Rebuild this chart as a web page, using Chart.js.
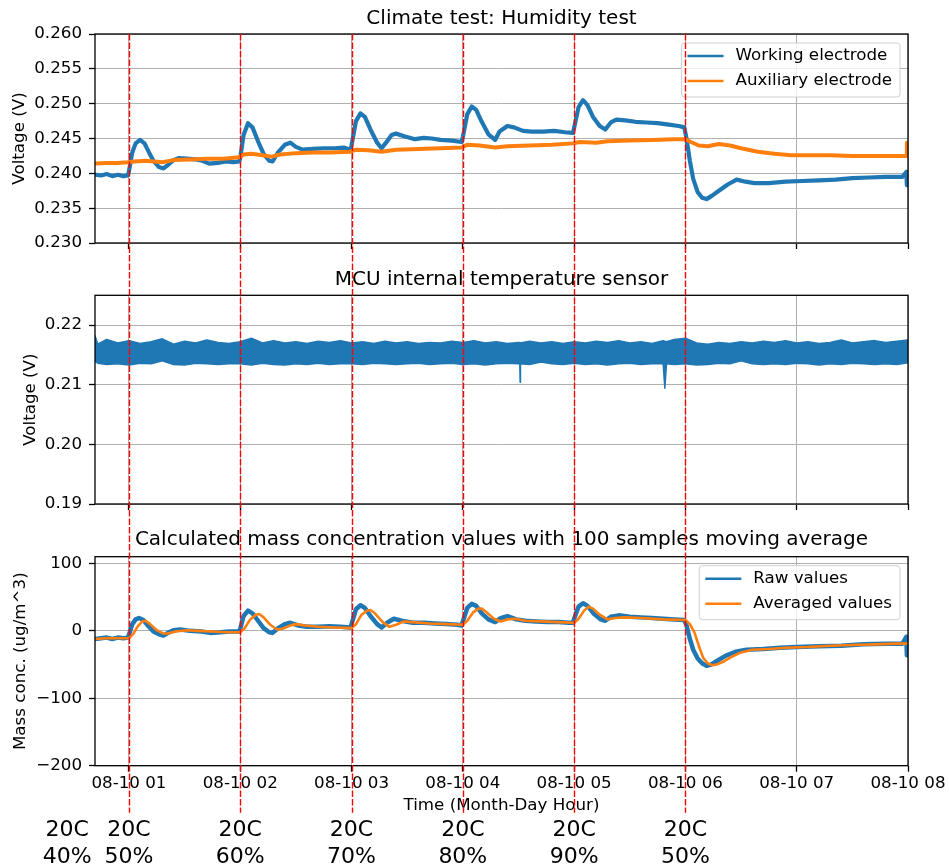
<!DOCTYPE html>
<html>
<head>
<meta charset="utf-8">
<title>Climate test: Humidity test</title>
<script src="https://cdn.jsdelivr.net/npm/chart.js@4.4.0/dist/chart.umd.min.js"></script>
<style>
  html, body { margin: 0; padding: 0; background: #fff; }
  #stage { position: relative; width: 949px; height: 867px; }
  #stage canvas { position: absolute; left: 0; top: 0; }
</style>
</head>
<body>
<div id="stage">
  <canvas id="chart-voltage" width="949" height="867"></canvas>
  <canvas id="chart-mcu" width="949" height="867"></canvas>
  <canvas id="chart-mass" width="949" height="867"></canvas>
</div>
<script>
/* ============================================================
   Humidity step test — electrode voltages, MCU temp, mass conc.
   x values are hours of 08-10
   ============================================================ */

// ── time axis ──
const X_MIN = 0.695;
const X_MAX = 8;
const hourTicks = [1, 2, 3, 4, 5, 6, 7, 8];
const stepHours = [1, 2, 3, 4, 5, 6];

// climate chamber set points
const condHours = [0.445, 1, 2, 3, 4, 5, 6];
const condTemp = ['20C', '20C', '20C', '20C', '20C', '20C', '20C'];
const condRh = ['40%', '50%', '60%', '70%', '80%', '90%', '50%'];

// ── y ticks ──
const voltTicks = [0.230, 0.235, 0.240, 0.245, 0.250, 0.255, 0.260];
const mcuTicks = [0.19, 0.20, 0.21, 0.22];
const massTicks = [-200, -100, 0, 100];

// ── working electrode (V) ──
const weTime = [0.695, 0.75, 0.80, 0.85, 0.90, 0.95, 0.99, 1.00, 1.03, 1.06, 1.10, 1.14, 1.18, 1.22, 1.27, 1.31,
  1.35, 1.40, 1.45, 1.52, 1.60, 1.66, 1.72, 1.80, 1.87, 1.94, 1.99, 2.00, 2.03, 2.07, 2.11, 2.16, 2.21, 2.26,
  2.29, 2.34, 2.40, 2.45, 2.50, 2.56, 2.65, 2.75, 2.85, 2.93, 2.99, 3.00, 3.04, 3.08, 3.12, 3.17, 3.23, 3.27,
  3.31, 3.36, 3.40, 3.48, 3.57, 3.65, 3.72, 3.80, 3.90, 3.99, 4.00, 4.04, 4.08, 4.12, 4.17, 4.23, 4.29, 4.33,
  4.40, 4.46, 4.54, 4.62, 4.72, 4.82, 4.92, 4.99, 5.00, 5.04, 5.08, 5.12, 5.17, 5.23, 5.28, 5.33, 5.38, 5.46,
  5.55, 5.65, 5.75, 5.85, 5.94, 5.99, 6.01, 6.04, 6.07, 6.11, 6.15, 6.19, 6.24, 6.31, 6.38, 6.46, 6.54, 6.62,
  6.75, 6.90, 7.05, 7.20, 7.35, 7.50, 7.65, 7.80, 7.95, 7.985, 7.99, 8.00];
const weVolt = [0.2398, 0.2397, 0.2399, 0.2396, 0.2398, 0.2396, 0.2397, 0.2403, 0.2430, 0.2443, 0.2448, 0.2443,
  0.2430, 0.2418, 0.2409, 0.2407, 0.2412, 0.2419, 0.2422, 0.2421, 0.2420, 0.2418, 0.2414, 0.2415, 0.2417, 0.2416,
  0.2417, 0.2422, 0.2455, 0.2472, 0.2466, 0.2446, 0.2428, 0.2418, 0.2417, 0.2430, 0.2441, 0.2444, 0.2438, 0.2434,
  0.2435, 0.2436, 0.2436, 0.2437, 0.2434, 0.2440, 0.2475, 0.2486, 0.2481, 0.2463, 0.2444, 0.2436, 0.2444, 0.2455,
  0.2457, 0.2453, 0.2449, 0.2451, 0.2450, 0.2448, 0.2447, 0.2445, 0.2452, 0.2485, 0.2496, 0.2491, 0.2474, 0.2456,
  0.2448, 0.2460, 0.2468, 0.2466, 0.2461, 0.2460, 0.2460, 0.2461, 0.2459, 0.2458, 0.2465, 0.2495, 0.2505, 0.2498,
  0.2481, 0.2468, 0.2463, 0.2473, 0.2477, 0.2476, 0.2474, 0.2473, 0.2472, 0.2470, 0.2468, 0.2466, 0.2450, 0.2418,
  0.2392, 0.2373, 0.2365, 0.2363, 0.2368, 0.2376, 0.2384, 0.2391, 0.2388, 0.2386, 0.2386, 0.2388, 0.2389, 0.2390,
  0.2391, 0.2393, 0.2394, 0.2395, 0.2395, 0.2402, 0.2383, 0.2396];

// ── auxiliary electrode (V) ──
const aeTime = [0.695, 0.80, 0.90, 0.99, 1.05, 1.15, 1.30, 1.40, 1.55, 1.70, 1.85, 1.99, 2.03, 2.10, 2.20, 2.28,
  2.36, 2.50, 2.65, 2.80, 2.99, 3.04, 3.15, 3.27, 3.40, 3.60, 3.80, 3.99, 4.04, 4.15, 4.29, 4.40, 4.60, 4.80,
  4.99, 5.05, 5.20, 5.30, 5.50, 5.70, 5.90, 6.00, 6.05, 6.12, 6.20, 6.30, 6.40, 6.50, 6.65, 6.80, 6.95, 7.10,
  7.30, 7.50, 7.70, 7.90, 7.985, 7.99, 8.00];
const aeVolt = [0.2414, 0.2415, 0.2415, 0.2416, 0.2417, 0.2418, 0.2416, 0.2419, 0.2420, 0.2421, 0.2421, 0.2423,
  0.2427, 0.2428, 0.2426, 0.2424, 0.2427, 0.2429, 0.2430, 0.2430, 0.2431, 0.2434, 0.2433, 0.2431, 0.2434, 0.2435,
  0.2436, 0.2437, 0.2441, 0.2440, 0.2437, 0.2439, 0.2440, 0.2441, 0.2443, 0.2445, 0.2444, 0.2446, 0.2447, 0.2448,
  0.2449, 0.2449, 0.2445, 0.2440, 0.2439, 0.2442, 0.2440, 0.2436, 0.2431, 0.2428, 0.2426, 0.2426, 0.2426, 0.2425,
  0.2425, 0.2425, 0.2425, 0.2444, 0.2425];

// ── MCU temperature sensor: upper / lower edge of the noise band (V) ──
const mcuTime = [0.695, 0.72, 0.80, 0.90, 1.00, 1.10, 1.20, 1.30, 1.40, 1.50, 1.60, 1.70, 1.80, 1.90, 2.00, 2.10,
  2.20, 2.30, 2.40, 2.50, 2.60, 2.70, 2.80, 2.90, 3.00, 3.10, 3.20, 3.30, 3.40, 3.50, 3.60, 3.70, 3.80, 3.90,
  4.00, 4.10, 4.20, 4.30, 4.40, 4.50, 4.512, 4.515, 4.518, 4.60, 4.70, 4.80, 4.90, 5.00, 5.10, 5.20, 5.30, 5.40,
  5.50, 5.60, 5.70, 5.80, 5.815, 5.83, 5.90, 6.00, 6.10, 6.20, 6.30, 6.40, 6.50, 6.60, 6.70, 6.80, 6.90, 7.00,
  7.10, 7.20, 7.30, 7.40, 7.50, 7.60, 7.70, 7.80, 7.90, 8.00];
const mcuHigh = [0.2182, 0.2168, 0.2176, 0.2170, 0.2174, 0.2169, 0.2172, 0.2177, 0.2168, 0.2173, 0.2170, 0.2175,
  0.2171, 0.2169, 0.2172, 0.2178, 0.2170, 0.2174, 0.2170, 0.2172, 0.2169, 0.2173, 0.2171, 0.2174, 0.2170, 0.2172,
  0.2169, 0.2173, 0.2170, 0.2172, 0.2169, 0.2171, 0.2170, 0.2173, 0.2171, 0.2174, 0.2170, 0.2172, 0.2169, 0.2171,
  0.2171, 0.2170, 0.2170, 0.2173, 0.2170, 0.2172, 0.2169, 0.2172, 0.2170, 0.2173, 0.2171, 0.2174, 0.2170, 0.2172,
  0.2169, 0.2174, 0.2173, 0.2172, 0.2176, 0.2178, 0.2170, 0.2168, 0.2171, 0.2169, 0.2172, 0.2170, 0.2173, 0.2171,
  0.2174, 0.2170, 0.2172, 0.2169, 0.2171, 0.2175, 0.2170, 0.2172, 0.2174, 0.2171, 0.2173, 0.2175];
const mcuLow = [0.2140, 0.2136, 0.2134, 0.2135, 0.2133, 0.2136, 0.2135, 0.2140, 0.2134, 0.2133, 0.2136, 0.2135,
  0.2134, 0.2135, 0.2135, 0.2133, 0.2136, 0.2134, 0.2133, 0.2135, 0.2134, 0.2136, 0.2134, 0.2135, 0.2135, 0.2134,
  0.2136, 0.2135, 0.2134, 0.2135, 0.2136, 0.2134, 0.2135, 0.2136, 0.2134, 0.2135, 0.2133, 0.2135, 0.2136, 0.2135,
  0.2135, 0.2104, 0.2135, 0.2134, 0.2138, 0.2135, 0.2134, 0.2136, 0.2134, 0.2135, 0.2133, 0.2135, 0.2136, 0.2134,
  0.2135, 0.2135, 0.2094, 0.2135, 0.2134, 0.2135, 0.2133, 0.2134, 0.2136, 0.2135, 0.2140, 0.2135, 0.2134, 0.2135,
  0.2134, 0.2136, 0.2135, 0.2133, 0.2135, 0.2134, 0.2136, 0.2135, 0.2134, 0.2135, 0.2134, 0.2137];

// ── mass concentration, raw (ug/m^3) ──
const rawTime = [0.695, 0.75, 0.80, 0.85, 0.90, 0.95, 0.99, 1.00, 1.03, 1.06, 1.09, 1.13, 1.17, 1.22, 1.27, 1.31,
  1.35, 1.40, 1.46, 1.55, 1.65, 1.73, 1.82, 1.90, 1.99, 2.00, 2.03, 2.07, 2.11, 2.16, 2.21, 2.26, 2.29, 2.34,
  2.40, 2.45, 2.52, 2.60, 2.70, 2.80, 2.90, 2.99, 3.00, 3.04, 3.08, 3.12, 3.17, 3.23, 3.27, 3.32, 3.38, 3.45,
  3.55, 3.65, 3.75, 3.85, 3.95, 3.99, 4.00, 4.04, 4.08, 4.12, 4.17, 4.23, 4.29, 4.34, 4.40, 4.48, 4.56, 4.66,
  4.76, 4.86, 4.95, 4.99, 5.00, 5.04, 5.08, 5.12, 5.18, 5.24, 5.28, 5.33, 5.40, 5.50, 5.60, 5.70, 5.80, 5.90,
  5.99, 6.01, 6.04, 6.07, 6.11, 6.15, 6.19, 6.23, 6.29, 6.36, 6.45, 6.55, 6.70, 6.85, 7.00, 7.20, 7.40, 7.60,
  7.80, 7.95, 7.985, 7.99, 8.00];
const rawMass = [-12, -11, -10, -12, -10, -11, -10, -6, 10, 17, 19, 16, 8, -1, -5, -7,
  -3, 1, 2, 0, -1, -3, -2, -1, -1, 3, 22, 30, 26, 15, 4, -2, -3, 4,
  10, 12, 8, 6, 6, 7, 6, 5, 10, 32, 38, 34, 22, 10, 5, 12, 18, 15,
  12, 12, 11, 10, 9, 8, 14, 34, 40, 37, 26, 17, 13, 19, 22, 17, 15, 14,
  13, 13, 12, 12, 18, 36, 41, 37, 25, 17, 15, 21, 23, 21, 20, 19, 18, 17,
  16, 8, -12, -28, -41, -48, -52, -50, -44, -37, -31, -28, -27, -25, -24, -23, -22, -20,
  -19, -19, -9, -36, -20];

// ── mass concentration, 100 sample moving average (ug/m^3) ──
const avgTime = [0.695, 0.80, 0.90, 1.00, 1.04, 1.08, 1.12, 1.15, 1.19, 1.25, 1.31, 1.35, 1.42, 1.52, 1.62, 1.75,
  1.88, 2.00, 2.04, 2.09, 2.14, 2.17, 2.21, 2.27, 2.33, 2.38, 2.45, 2.50, 2.58, 2.70, 2.85, 3.00, 3.04, 3.09,
  3.14, 3.17, 3.21, 3.28, 3.34, 3.40, 3.47, 3.55, 3.70, 3.85, 4.00, 4.04, 4.09, 4.14, 4.17, 4.21, 4.28, 4.34,
  4.40, 4.47, 4.56, 4.70, 4.85, 5.00, 5.04, 5.09, 5.13, 5.17, 5.23, 5.30, 5.37, 5.45, 5.60, 5.80, 6.00, 6.04,
  6.08, 6.12, 6.16, 6.20, 6.24, 6.28, 6.35, 6.42, 6.50, 6.60, 6.75, 6.90, 7.10, 7.30, 7.50, 7.70, 7.90, 8.00];
const avgMass = [-12, -11, -11, -11, -4, 7, 14, 15, 10, 1, -4, -4, -1, 1, 0, -1,
  -2, -2, 4, 17, 24, 25, 20, 9, 2, 3, 8, 10, 8, 6, 5, 4, 10, 24,
  30, 31, 26, 13, 6, 9, 14, 13, 11, 10, 9, 15, 27, 33, 33, 28, 18, 14,
  17, 18, 15, 14, 13, 12, 18, 30, 36, 33, 24, 17, 19, 20, 19, 17, 16, 10,
  -2, -22, -40, -48, -51, -50, -45, -38, -32, -28, -27, -25, -24, -22, -21, -20, -19, -19];

const BLUE = '#1f77b4';
const ORANGE = '#ff7f0e';
const FONT = "'DejaVu Sans', sans-serif";
const TICK_SIZE = 16.7;

(function () {
  'use strict';

  const pts = (xs, ys) => xs.map((x, i) => ({ x: x, y: ys[i] }));
  const fmtMinus = v => String(v).replace('-', '\u2212');

  // ══════════════════════════════════════════
  // PLUGINS
  // ══════════════════════════════════════════

  // black box around each plot area
  const framePlugin = {
    id: 'frame',
    afterDatasetsDraw(chart) {
      const { ctx, chartArea: a } = chart;
      ctx.save();
      ctx.strokeStyle = '#000';
      ctx.lineWidth = 1.3;
      ctx.strokeRect(a.left, a.top, a.right - a.left, a.bottom - a.top);
      ctx.restore();
    }
  };

  // framed legend in the upper right corner of the plot area
  const boxLegend = {
    id: 'boxLegend',
    afterDraw(chart, args, opts) {
      if (!opts.show) return;
      const { ctx, chartArea: a } = chart;
      const items = chart.data.datasets.filter(d => d.label);
      ctx.save();
      ctx.font = TICK_SIZE + 'px ' + FONT;
      const textW = Math.max.apply(null, items.map(d => ctx.measureText(d.label).width));
      const w = 6 + 36 + 12 + textW + 8;
      const h = 13 + (items.length - 1) * 25 + 16;
      const x = a.right - 8 - w;
      const y = a.top + 9;
      const r = 3;

      ctx.beginPath();
      ctx.moveTo(x + r, y);
      ctx.arcTo(x + w, y, x + w, y + h, r);
      ctx.arcTo(x + w, y + h, x, y + h, r);
      ctx.arcTo(x, y + h, x, y, r);
      ctx.arcTo(x, y, x + w, y, r);
      ctx.closePath();
      ctx.fillStyle = 'rgba(255,255,255,0.8)';
      ctx.fill();
      ctx.strokeStyle = '#d0d0d0';
      ctx.lineWidth = 1;
      ctx.stroke();

      items.forEach((d, i) => {
        const ry = y + 13 + i * 25;
        ctx.strokeStyle = d.borderColor;
        ctx.lineWidth = 2.5;
        ctx.beginPath();
        ctx.moveTo(x + 6, ry);
        ctx.lineTo(x + 42, ry);
        ctx.stroke();
        ctx.fillStyle = '#000';
        ctx.textAlign = 'left';
        ctx.textBaseline = 'middle';
        ctx.fillText(d.label, x + 54, ry);
      });
      ctx.restore();
    }
  };

  // red dashed lines at each humidity step + set point labels
  const stepMarkers = {
    id: 'stepMarkers',
    afterDraw(chart, args, opts) {
      if (!opts.show) return;
      const { ctx, chartArea: a } = chart;
      const xs = chart.scales.x;
      ctx.save();
      ctx.strokeStyle = '#ff0000';
      ctx.lineWidth = 1.4;
      ctx.setLineDash([6.5, 2]);
      stepHours.forEach(hr => {
        const px = Math.round(xs.getPixelForValue(hr)) + 0.5;
        ctx.beginPath();
        ctx.moveTo(px, opts.top);
        ctx.lineTo(px, a.bottom + 47);
        ctx.stroke();
      });
      ctx.setLineDash([]);
      ctx.fillStyle = '#000';
      ctx.font = '22px ' + FONT;
      ctx.textAlign = 'center';
      ctx.textBaseline = 'middle';
      condHours.forEach((hr, i) => {
        const px = xs.getPixelForValue(hr);
        ctx.fillText(condTemp[i], px, a.bottom + 65);
        ctx.fillText(condRh[i], px, a.bottom + 92);
      });
      ctx.restore();
    }
  };

  // ══════════════════════════════════════════
  // AXES
  // ══════════════════════════════════════════
  const tickFont = { family: FONT, size: TICK_SIZE };
  const grid = { color: '#b0b0b0', lineWidth: 1, tickColor: '#000', tickLength: 6, tickWidth: 1.3 };

  function xAxis(showLabels, height) {
    return {
      type: 'linear',
      min: X_MIN,
      max: X_MAX,
      afterBuildTicks: s => { s.ticks = hourTicks.map(v => ({ value: v })); },
      afterFit: s => { s.height = height; },
      grid: grid,
      border: { display: false },
      ticks: {
        display: showLabels, autoSkip: false, maxRotation: 0, padding: 2,
        color: '#000', font: tickFont,
        callback: v => '08-10 ' + String(v).padStart(2, '0')
      },
      title: {
        display: showLabels, text: 'Time (Month-Day Hour)', color: '#000',
        font: tickFont, padding: { top: 0, bottom: 0 }
      }
    };
  }

  function yAxis(min, max, ticks, fmt, title, gap) {
    return {
      type: 'linear',
      min: min,
      max: max,
      afterBuildTicks: s => { s.ticks = ticks.map(v => ({ value: v })); },
      afterFit: s => { s.width = 95; },
      grid: grid,
      border: { display: false },
      ticks: { padding: 7, color: '#000', font: tickFont, callback: fmt },
      title: { display: true, text: title, color: '#000', font: tickFont, padding: { top: gap, bottom: 0 } }
    };
  }

  function baseOptions(pad, title, titleBottom, scales, plugins) {
    return {
      responsive: false,
      animation: false,
      events: [],
      devicePixelRatio: 1,
      layout: { padding: { left: 0, right: 41, top: pad.top, bottom: pad.bottom } },
      elements: {
        point: { radius: 0 },
        line: { tension: 0, borderJoinStyle: 'round', borderCapStyle: 'round' }
      },
      plugins: Object.assign({
        legend: { display: false },
        tooltip: { enabled: false },
        title: {
          display: true, text: title, fullSize: false, color: '#000',
          font: { family: FONT, size: 20, weight: 'normal', lineHeight: 1.2 },
          padding: { top: 0, bottom: titleBottom }
        }
      }, plugins),
      scales: scales
    };
  }

  // ══════════════════════════════════════════
  // CHARTS
  // ══════════════════════════════════════════
  function init() {
    Chart.defaults.font.family = FONT;

    const voltChart = new Chart(document.getElementById('chart-voltage'), {
      type: 'line',
      data: {
        datasets: [
          { label: 'Working electrode', data: pts(weTime, weVolt), borderColor: BLUE, borderWidth: 4.2, order: 1 },
          { label: 'Auxiliary electrode', data: pts(aeTime, aeVolt), borderColor: ORANGE, borderWidth: 4, order: 0 }
        ]
      },
      options: baseOptions({ top: 7, bottom: 616 }, 'Climate test: Humidity test', 3, {
        x: xAxis(false, 8),
        y: yAxis(0.23, 0.26, voltTicks, v => v.toFixed(3), 'Voltage (V)', 10)
      }, { boxLegend: { show: true } }),
      plugins: [framePlugin, boxLegend]
    });

    new Chart(document.getElementById('chart-mcu'), {
      type: 'line',
      data: {
        datasets: [
          { data: pts(mcuTime, mcuHigh), borderColor: BLUE, backgroundColor: BLUE, borderWidth: 1.5, fill: '+1' },
          { data: pts(mcuTime, mcuLow), borderColor: BLUE, borderWidth: 1.5, fill: false }
        ]
      },
      options: baseOptions({ top: 268, bottom: 355 }, 'MCU internal temperature sensor', 3.3, {
        x: xAxis(false, 8),
        y: yAxis(0.19, 0.225, mcuTicks, v => v.toFixed(2), 'Voltage (V)', 21)
      }, {}),
      plugins: [framePlugin]
    });

    new Chart(document.getElementById('chart-mass'), {
      type: 'line',
      data: {
        datasets: [
          { label: 'Raw values', data: pts(rawTime, rawMass), borderColor: BLUE, borderWidth: 4.5, order: 1 },
          { label: 'Averaged values', data: pts(avgTime, avgMass), borderColor: ORANGE, borderWidth: 2.6, order: 0 }
        ]
      },
      options: baseOptions({ top: 528, bottom: 51.1 },
        'Calculated mass concentration values with 100 samples moving average', 4.7, {
          x: xAxis(true, 50.2),
          y: yAxis(-200, 110, massTicks, fmtMinus, 'Mass conc. (ug/m^3)', 10.6)
        }, {
          boxLegend: { show: true },
          stepMarkers: { show: true, top: voltChart.chartArea.top }
        }),
      plugins: [framePlugin, boxLegend, stepMarkers]
    });
  }

  if (document.readyState === 'loading') {
    document.addEventListener('DOMContentLoaded', init);
  } else {
    init();
  }
})();
</script>
</body>
</html>
